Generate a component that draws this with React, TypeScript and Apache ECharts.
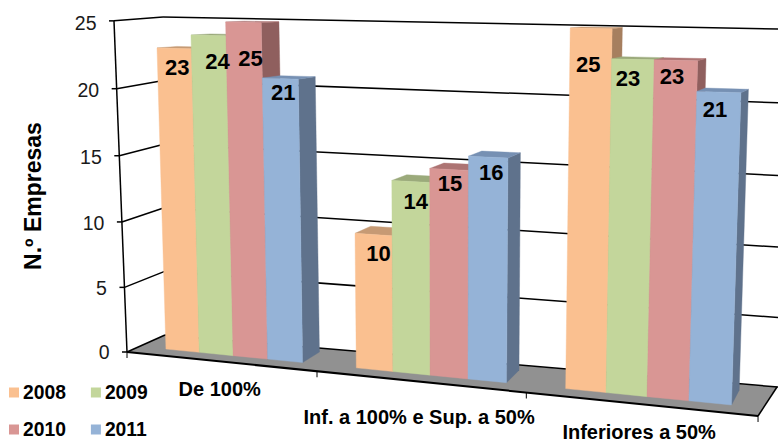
import React, { useEffect, useRef } from "react";
import * as echarts from "echarts";

const categories = ["De 100%", "Inf. a 100% e Sup. a 50%", "Inferiores a 50%"];
const seriesNames = ["2008", "2009", "2010", "2011"];
const values2008 = [23, 10, 25];
const values2009 = [24, 14, 23];
const values2010 = [25, 15, 23];
const values2011 = [21, 16, 21];
const tickValues = [0, 5, 10, 15, 20, 25];
const allValues = [values2008, values2009, values2010, values2011];

const frontColors = ["#FAC090", "#C3D69B", "#D99694", "#95B3D7"];
const sideColors = ["#A67F5F", "#8F9D72", "#8F5F5E", "#5F728C"];
const topColors = ["#C69A74", "#9BAA7B", "#AD7473", "#7690B3"];

// Hand-placed label nudges of the original (dx, dy from the bar's top-centre).
const labelNudges = [
  [[3, 19], [5, 19], [-3, 36]],
  [[9, 26], [5, 20], [-5, 19]],
  [[7, 36], [1, 14], [-4, 16]],
  [[3, 14], [3, 15], [-4, 17]],
];
const categoryNudges = [27.6, 35.4, 28];

const GRID = { left: 100, top: 40, width: 550, height: 300 };
const FONT = '"Liberation Sans", Arial, sans-serif';

function makeHomography(bl: number[], br: number[], tr: number[], tl: number[]) {
  const [x0, y0] = bl, [x1, y1] = br, [x2, y2] = tr, [x3, y3] = tl;
  const dx1 = x1 - x2, dx2 = x3 - x2, sx = x0 - x1 + x2 - x3;
  const dy1 = y1 - y2, dy2 = y3 - y2, sy = y0 - y1 + y2 - y3;
  const den = dx1 * dy2 - dx2 * dy1;
  const g = (sx * dy2 - dx2 * sy) / den;
  const h = (dx1 * sy - sx * dy1) / den;
  const a = x1 - x0 + g * x1, b = x3 - x0 + h * x3, c = x0;
  const d = y1 - y0 + g * y1, e = y3 - y0 + h * y3, f = y0;
  return (s: number, r: number) => {
    const w = g * s + h * r + 1;
    return [(a * s + b * r + c) / w, (d * s + e * r + f) / w];
  };
}

const barPlane = makeHomography([141.3, 346.6], [764, 408.2], [776.7, 31.5], [130.8, 20.4]);

function toUnit(p: number[]) {
  return [(p[0] - GRID.left) / GRID.width, (GRID.top + GRID.height - p[1]) / GRID.height];
}

function backOf(p: number[]) {
  const dx = 16.8 - (p[0] - 303) * 0.0213;
  const xf = (p[0] - 300) / 440;
  const yf = (p[1] - 80) / 300;
  const top = -2.5 - 0.5 * xf;
  const bottom = -11 - 3 * xf;
  return [p[0] + dx, p[1] + top + (bottom - top) * yf];
}

// Walls: r is the value's unit height on the axis scale.
function frontWall(r: number) {
  const v = r * 25;
  const y = (352 - 13.27 * v) / (1 - 0.00119 * v);
  return [127 - (13 * (352 - y)) / 331, y];
}
function backLeftWall(r: number) {
  return [165 - 2 * r, 335 - 318 * r];
}
function rightWall(r: number) {
  const v = r * 25;
  return [778, (387 - 14.36 * v) / (1 - 0.001468 * v)];
}
function frontEdge(s: number) {
  const x = (127 + 526.2 * s) / (1 - 0.1383 * s);
  return [x, 352 + (x - 127) * 0.1014];
}

const black = { stroke: "#000", lineWidth: 1.5, fill: "none" };

function line(a: number[], b: number[], style: any = black) {
  return {
    type: "line",
    shape: { x1: a[0], y1: a[1], x2: b[0], y2: b[1] },
    style,
  };
}

function renderWall(params: any, api: any) {
  const value = api.value(1);
  const r = toUnit(api.coord([0, value]))[1];
  const f = frontWall(r);
  const b = backLeftWall(r);
  const e = rightWall(r);
  const children: any[] = [];
  if (params.dataIndex === 0) {
    const fr = frontEdge(1);
    children.push({
      type: "polygon",
      shape: { points: [f, fr, [777, 387], b] },
      style: { fill: "#919191", stroke: "none" },
    });
    for (let k = 0; k <= 3; k++) {
      const p = frontEdge(k / 3);
      children.push(line(p, [p[0], p[1] + 6], { stroke: "#000", lineWidth: 1, fill: "none" }));
    }
    children.push(line(f, fr, { stroke: "#000", lineWidth: 2, fill: "none" }));
    children.push(line(fr, [777, 387]));
    children.push(line(f, b));
    const topF = frontWall(1);
    children.push(line(f, topF));
  } else {
    children.push(line(f, b));
  }
  children.push(line(b, e));
  children.push(line([f[0] - 5, f[1]], f));
  children.push({
    type: "text",
    z2: 100,
    style: {
      text: String(value),
      x: f[0] - 17.5,
      y: f[1] + r * 2,
      align: "right",
      verticalAlign: "middle",
      fill: "#1a1a1a",
      font: `19.5px ${FONT}`,
    },
  });
  return { type: "group", children };
}

function renderCategory(params: any, api: any) {
  const base = api.coord([params.dataIndex, 0]);
  const s = toUnit(base)[0];
  const p = frontEdge(s);
  return {
    type: "text",
    z2: 100,
    style: {
      text: categories[params.dataIndex],
      x: p[0],
      y: p[1] + categoryNudges[params.dataIndex],
      align: "center",
      verticalAlign: "middle",
      fill: "#000",
      font: `bold 20px ${FONT}`,
    },
  };
}

function makeBarRenderer(seriesIndex: number) {
  return (params: any, api: any) => {
    const cat = params.dataIndex;
    const value = api.value(1);
    const band = api.size([1, 0])[0];
    const barW = band / 5.5;
    const center = api.coord([cat, value]);
    const zero = api.coord([cat, 0]);
    const x0 = center[0] - 2 * barW + seriesIndex * barW;
    const x1 = x0 + barW;
    const pt = (x: number, y: number) => {
      const u = toUnit([x, y]);
      return barPlane(u[0], u[1]);
    };
    const bl = pt(x0, zero[1]);
    const br = pt(x1, zero[1]);
    const tr = pt(x1, center[1]);
    const tl = pt(x0, center[1]);
    const bbr = backOf(br);
    const btr = backOf(tr);
    const btl = backOf(tl);
    const nudge = labelNudges[seriesIndex][cat];
    return {
      type: "group",
      children: [
        {
          type: "polygon",
          shape: { points: [tr, br, bbr, btr] },
          style: { fill: sideColors[seriesIndex], stroke: sideColors[seriesIndex], lineWidth: 0.4 },
        },
        {
          type: "polygon",
          shape: { points: [tl, tr, btr, btl] },
          style: { fill: topColors[seriesIndex], stroke: topColors[seriesIndex], lineWidth: 0.4 },
        },
        {
          type: "polygon",
          shape: { points: [bl, br, tr, tl] },
          style: { fill: frontColors[seriesIndex], stroke: frontColors[seriesIndex], lineWidth: 0.4 },
        },
        {
          type: "text",
          z2: 100,
          style: {
            text: String(value),
            x: (tl[0] + tr[0]) / 2 + nudge[0],
            y: (tl[1] + tr[1]) / 2 + nudge[1],
            align: "center",
            verticalAlign: "middle",
            fill: "#000",
            font: `bold 22px ${FONT}`,
          },
        },
      ],
    };
  };
}

export default function App() {
  const ref = useRef<HTMLDivElement>(null);
  useEffect(() => {
    document.body.style.margin = "0";
    const chart = echarts.init(ref.current!, null, { renderer: "svg" });
    const legendBase = {
      orient: "horizontal",
      left: 9,
      padding: 0,
      itemWidth: 10,
      itemHeight: 10,
      itemGap: 25,
      icon: "rect",
      selectedMode: false,
      textStyle: { fontFamily: FONT, fontWeight: "bold", fontSize: 19.3, color: "#000", padding: [1, 0, 0, -1] },
    };
    chart.setOption({
      animation: false,
      backgroundColor: "#fff",
      grid: { ...GRID },
      xAxis: { type: "category", data: categories, show: false },
      yAxis: { type: "value", min: 0, max: 25, interval: 5, show: false },
      legend: [
        { ...legendBase, top: 383, data: seriesNames.slice(0, 2) },
        { ...legendBase, top: 420, data: seriesNames.slice(2, 4) },
      ],
      graphic: [
        {
          type: "text",
          x: 33,
          y: 196,
          rotation: Math.PI / 2,
          style: {
            text: "N.º Empresas",
            align: "center",
            verticalAlign: "middle",
            fill: "#000",
            font: `bold 23px ${FONT}`,
          },
        },
      ],
      series: [
        {
          type: "custom",
          name: "walls",
          silent: true,
          clip: false,
          renderItem: renderWall,
          encode: { x: 0, y: 1 },
          data: tickValues.map((v) => [0, v]),
        },
        ...seriesNames.map((name, i) => ({
          type: "custom",
          name,
          silent: true,
          clip: false,
          itemStyle: { color: frontColors[i] },
          renderItem: makeBarRenderer(i),
          encode: { x: 0, y: 1 },
          data: allValues[i].map((v, c) => [c, v]),
        })),
        {
          type: "custom",
          name: "categories",
          silent: true,
          clip: false,
          renderItem: renderCategory,
          encode: { x: 0, y: 1 },
          data: categories.map((_, c) => [c, 0]),
        },
      ],
    });
    return () => chart.dispose();
  }, []);
  return <div ref={ref} style={{ position: "absolute", left: 0, top: 0, width: 778, height: 443 }} />;
}
